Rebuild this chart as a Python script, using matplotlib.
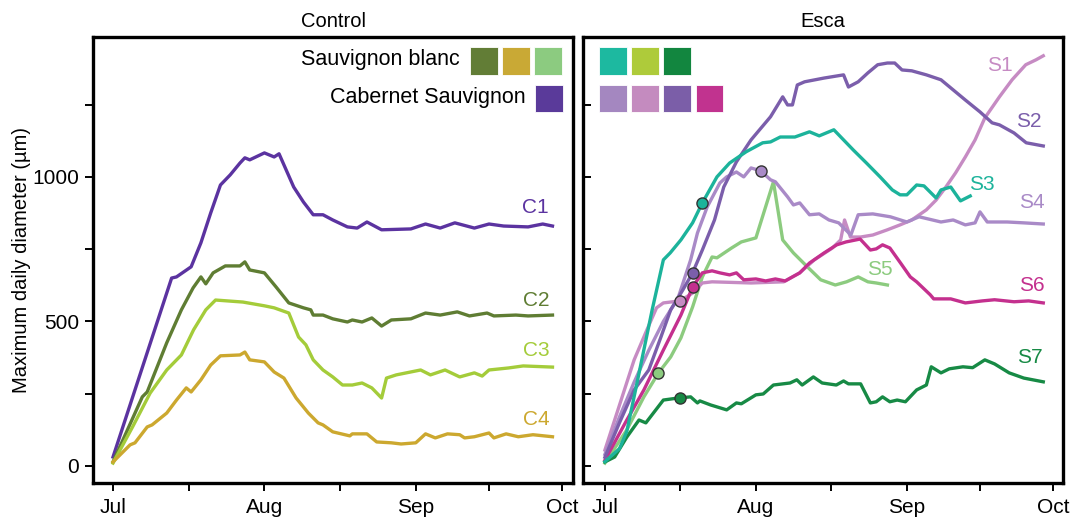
import numpy as np
import matplotlib
matplotlib.use("Agg")
import matplotlib.pyplot as plt
from matplotlib.patches import Rectangle

plt.rcParams['font.family'] = ['Liberation Sans', 'DejaVu Sans']

# ---- data: day counted from 1 July, maximum daily diameter in µm ----
month_days = [0, 31, 62, 92]
month_labels = ["Jul", "Aug", "Sep", "Oct"]
mid_month_days = [15.5, 46.5, 77]

C1_days = [0, 12, 13, 16, 18, 20, 22, 24, 26, 27, 28, 31, 33, 34, 37, 39, 41, 43, 45, 48, 50, 52, 55, 61, 64, 67, 70, 74, 77, 80, 85, 88, 90]
C1_vals = [31, 650, 654, 689, 772, 875, 972, 1007, 1048, 1066, 1059, 1083, 1069, 1080, 965, 913, 869, 869, 851, 827, 823, 844, 817, 820, 837, 823, 841, 823, 837, 830, 827, 837, 830]

C2_days = [0, 6, 7, 11, 14, 16.4, 18, 19, 20.5, 23, 26, 27, 28, 31, 33.4, 36, 39, 40.5, 41, 43, 45, 48, 49, 51, 53, 55, 57, 61, 64, 67, 70.5, 73, 76.6, 78, 82.5, 85, 90]
C2_vals = [14, 239, 256, 426, 540, 616, 654, 630, 668, 692, 692, 706, 678, 668, 619, 564, 547, 540, 522, 522, 509, 498, 505, 498, 512, 484, 505, 509, 529, 522, 533, 519, 529, 519, 522, 519, 522]

C3_days = [0, 4, 7.6, 11, 14, 16.5, 19, 21, 26.6, 31, 33, 36, 38, 39.5, 41, 43, 45, 47, 49, 51, 53, 55, 56, 58, 63, 65, 68, 71, 74, 75.6, 77, 81, 84, 90]
C3_vals = [10, 135, 252, 332, 384, 471, 540, 574, 567, 554, 547, 529, 446, 419, 367, 332, 308, 280, 280, 287, 270, 235, 304, 315, 332, 315, 332, 308, 322, 311, 332, 339, 346, 342]

C4_days = [0, 3.5, 4.5, 7, 8, 11, 13, 15, 16, 18, 20, 22, 26, 27, 28, 31, 33, 35, 37.5, 40, 42, 43, 45, 48.5, 49, 52, 54, 57, 59, 62, 64, 66, 68.5, 71, 72, 74, 77, 78, 80.5, 83, 86, 90]
C4_vals = [14, 73, 80, 135, 142, 183, 228, 270, 256, 298, 349, 381, 384, 394, 367, 360, 325, 304, 235, 183, 149, 142, 118, 104, 111, 111, 83, 80, 76, 80, 111, 97, 111, 108, 97, 101, 114, 97, 111, 101, 108, 101]

S1_days = [0, 4, 6, 8.6, 10.6, 12, 15.4, 18, 20, 22, 30, 36.7, 40, 43, 46.7, 48.4, 49.2, 50.4, 52.5, 55, 58, 60.6, 63, 66, 68, 70, 72, 74, 76, 78, 81, 83.6, 86.4, 88.5, 90]
S1_vals = [55, 263, 367, 470, 547, 564, 571, 598, 633, 637, 633, 637, 668, 713, 754, 782, 851, 792, 792, 799, 817, 834, 851, 886, 920, 965, 1014, 1069, 1128, 1204, 1277, 1336, 1388, 1405, 1419]

S2_days = [0, 3, 6, 9, 11.5, 13.5, 16, 18, 20, 22.5, 24.4, 27, 30, 34, 36.5, 37.5, 38.5, 39.5, 41, 45, 49, 50, 52, 54, 56, 58, 59.5, 61, 63, 66, 69, 71.5, 74, 77, 79.5, 81, 84, 86.5, 90]
S2_vals = [30, 150, 263, 332, 446, 540, 609, 668, 747, 851, 965, 1052, 1128, 1208, 1277, 1249, 1249, 1318, 1329, 1342, 1353, 1311, 1329, 1360, 1388, 1394, 1394, 1370, 1367, 1353, 1336, 1301, 1266, 1225, 1187, 1180, 1152, 1118, 1107]

S3_days = [0, 3, 4.5, 6.5, 9.7, 12, 13.4, 15.6, 18, 20, 23, 25.6, 29, 32.4, 34, 36, 39, 42, 44, 47, 49, 51, 53.7, 56.5, 59, 60.6, 62, 64, 65.5, 68, 69, 71, 73, 75]
S3_vals = [15, 60, 120, 280, 540, 713, 737, 782, 841, 910, 1000, 1048, 1087, 1118, 1121, 1138, 1138, 1156, 1142, 1163, 1128, 1093, 1048, 1000, 955, 938, 938, 972, 969, 927, 955, 965, 917, 934]

S4_days = [0, 3, 6, 9, 12, 15, 17.6, 19, 21, 23.6, 25, 27, 28.5, 30, 32, 34, 35, 37.5, 38.7, 40, 42, 44, 46, 48, 50.5, 52, 55, 58.6, 62, 64.5, 69, 71.5, 74, 76, 77, 78.5, 82.6, 86, 90]
S4_vals = [40, 170, 290, 400, 500, 580, 713, 806, 896, 979, 1000, 1017, 1000, 1031, 1021, 990, 983, 931, 903, 910, 869, 872, 851, 841, 799, 869, 872, 862, 844, 862, 844, 851, 834, 841, 879, 844, 844, 841, 837]

S5_days = [0, 4.5, 8, 11, 13.5, 15.6, 18, 20, 22, 23, 26, 28, 31, 34.6, 36.5, 38.7, 41.8, 44.3, 47.3, 49.6, 52, 54, 55.7, 58]
S5_vals = [10, 125, 239, 322, 377, 443, 550, 654, 723, 720, 754, 775, 789, 983, 782, 737, 685, 644, 626, 637, 654, 637, 633, 626]

S6_days = [0, 4.5, 8, 12, 15.6, 18, 20, 22, 23.6, 25.6, 27, 28.5, 31, 33, 35, 37, 40, 42, 45, 47.6, 49.5, 52.4, 54.5, 55.7, 57, 58.5, 60.7, 62.7, 64, 66.8, 67.5, 71, 74, 77.5, 80, 84, 87, 90]
S6_vals = [20, 159, 263, 401, 522, 619, 668, 675, 668, 661, 668, 644, 647, 640, 647, 640, 668, 702, 737, 765, 775, 785, 747, 751, 765, 754, 702, 654, 637, 592, 578, 578, 564, 571, 575, 568, 571, 564]

S7_days = [0, 2, 4.5, 7, 8.4, 12, 15, 17.6, 19, 19.5, 21.7, 25, 27, 28, 31, 32.5, 34.6, 38, 39.4, 40.5, 42.8, 44.6, 47.5, 49, 50, 52.5, 54.5, 55.7, 57, 58.5, 60, 61.7, 64, 66, 67, 69, 70.7, 73.5, 75.5, 78, 80, 83, 86, 90]
S7_vals = [14, 31, 100, 159, 149, 228, 235, 239, 218, 225, 211, 194, 218, 215, 246, 249, 280, 287, 298, 280, 308, 287, 280, 294, 284, 284, 218, 222, 239, 222, 228, 222, 263, 280, 343, 322, 336, 343, 340, 367, 353, 322, 304, 291]

# day of the circled symptom-onset point on each Esca vine
onset_day = {"S1": 15.4, "S2": 18, "S3": 20, "S4": 32, "S5": 11, "S6": 18, "S7": 15.4}

control_series = {"C1": (C1_days, C1_vals), "C2": (C2_days, C2_vals),
                  "C3": (C3_days, C3_vals), "C4": (C4_days, C4_vals)}
esca_series = {"S1": (S1_days, S1_vals), "S2": (S2_days, S2_vals),
               "S3": (S3_days, S3_vals), "S4": (S4_days, S4_vals),
               "S5": (S5_days, S5_vals), "S6": (S6_days, S6_vals),
               "S7": (S7_days, S7_vals)}

colors = {
    "C1": "#5b33a0", "C2": "#5f7d33", "C3": "#a4cc3a", "C4": "#cca82f",
    "S1": "#c68bc3", "S2": "#7b5eab", "S3": "#1cb39b", "S4": "#a98ac7",
    "S5": "#8ccb7f", "S6": "#c4308e", "S7": "#178a45",
}

# label anchor (day, value) next to each curve
label_pos = {
    "C1": (86.5, 893), "C2": (86.7, 574), "C3": (86.7, 401), "C4": (86.7, 159),
    "S1": (81, 1384), "S2": (87, 1190), "S3": (77.3, 972), "S4": (87.7, 910),
    "S5": (56.4, 678), "S6": (87.7, 626), "S7": (87.3, 374),
}

# ---- figure ----
W, H = 1072, 519
fig = plt.figure(figsize=(W / 100, H / 100), dpi=100)

def frac_box(x0, y0, x1, y1):
    return [x0 / W, 1 - y1 / H, (x1 - x0) / W, (y1 - y0) / H]

ax_c = fig.add_axes(frac_box(93, 37, 573, 483))
ax_e = fig.add_axes(frac_box(583, 37, 1063, 483))

FS = 15
LW = 2.4

for ax, xlim in ((ax_c, (-4.1, 94.2)), (ax_e, (-4.5, 94.05))):
    ax.set_xlim(*xlim)
    ax.set_ylim(-59, 1484)
    for s in ax.spines.values():
        s.set_linewidth(2.4)
        s.set_color("black")
    ax.set_xticks(month_days)
    ax.set_xticklabels(month_labels, fontsize=FS)
    ax.set_xticks(mid_month_days, minor=True)
    ax.set_yticks([0, 500, 1000])
    ax.set_yticks([250, 750, 1250], minor=True)
    ax.tick_params(axis="x", which="both", direction="out", length=6, width=1.4, pad=5)

ax_c.tick_params(axis="y", which="both", direction="out", length=6, width=1.4, pad=4, labelsize=FS)
ax_e.tick_params(axis="y", which="both", direction="in", length=6, width=1.4, labelleft=False)

for name, (d, v) in control_series.items():
    ax_c.plot(d, v, color=colors[name], lw=LW, solid_joinstyle="round", zorder=3)
    lx, ly = label_pos[name]
    ax_c.text(lx, ly, name, color=colors[name], fontsize=FS, ha="center", va="center")

draw_order = ["S5", "S7", "S1", "S4", "S6", "S2", "S3"]
for name in draw_order:
    d, v = esca_series[name]
    ax_e.plot(d, v, color=colors[name], lw=LW, solid_joinstyle="round", zorder=3)
for name in draw_order:
    d, v = esca_series[name]
    md = onset_day[name]
    mv = np.interp(md, d, v)
    ax_e.plot([md], [mv], "o", ms=8, mfc=colors[name], mec="#333333", mew=1.0, zorder=5)
    lx, ly = label_pos[name]
    ax_e.text(lx, ly, name, color=colors[name], fontsize=FS, ha="center", va="center")

ax_c.set_title("Control", fontsize=14.5, pad=7)
ax_e.set_title("Esca", fontsize=14.5, pad=7)
fig.text(22 / W, 1 - 260 / H, "Maximum daily diameter (µm)", rotation=90,
         ha="center", va="center", fontsize=14.5)

# ---- colour keys ----
def key_squares(ax, x0_px, row_top_px, cols, ax_left_px):
    sq = 27.5
    step = 32.2
    for i, c in enumerate(cols):
        x = x0_px + i * step
        rect = Rectangle(((x - ax_left_px) / 480, (483 - row_top_px - sq) / 446),
                         sq / 480, sq / 446, transform=ax.transAxes,
                         facecolor=c, edgecolor="white", lw=0.6, zorder=6)
        ax.add_patch(rect)

key_squares(ax_c, 470, 47, ["#627d36", "#c9a935", "#8ccb80"], 93)
key_squares(ax_c, 535.4, 84.5, ["#5a3a9a"], 93)
ax_c.text((460 - 93) / 480, (483 - 60) / 446, "Sauvignon blanc", transform=ax_c.transAxes,
          ha="right", va="center", fontsize=15.5)
ax_c.text((526 - 93) / 480, (483 - 98) / 446, "Cabernet Sauvignon", transform=ax_c.transAxes,
          ha="right", va="center", fontsize=15.5)

key_squares(ax_e, 599, 47, ["#1db9a0", "#aecb3a", "#12863f"], 583)
key_squares(ax_e, 599, 84.5, ["#a487c0", "#c48bbf", "#7b5ea8", "#c1338f"], 583)

fig.savefig("out.png", dpi=100)
